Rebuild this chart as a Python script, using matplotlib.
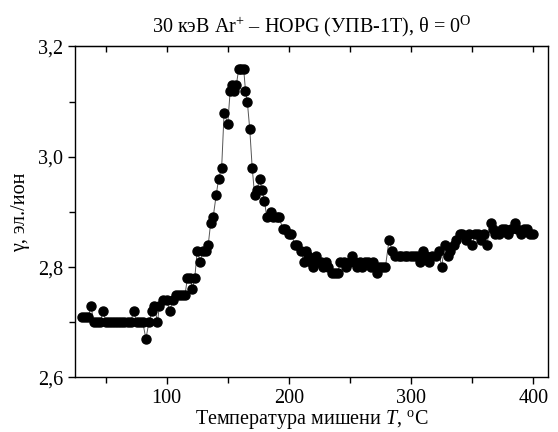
import numpy as np
import matplotlib
matplotlib.use("Agg")
import matplotlib.pyplot as plt
from matplotlib.ticker import FixedLocator, FuncFormatter

plt.rcParams['font.family'] = ['Liberation Serif', 'DejaVu Serif']
plt.rcParams['mathtext.fontset'] = 'custom'
plt.rcParams['mathtext.rm'] = 'Liberation Serif'
plt.rcParams['mathtext.it'] = 'Liberation Serif:italic'

# temperature, C
temp = [31, 33.5, 36, 38, 40.5, 43, 45.5, 48, 50.5, 53,
        55.5, 58, 60.5, 63, 65.5, 68, 70.5, 73, 75.5, 78,
        80.5, 83, 85.5, 88, 90, 92.5, 94, 97, 100, 102.5,
        105, 107.5, 110, 112.5, 115, 117, 119.5, 121, 123, 125,
        127.5, 129.5, 132, 134, 136, 138, 140.5, 142.5, 145, 147,
        150, 152, 153.5, 155.5, 157, 159, 161, 163, 164.5, 166,
        168, 170, 172, 174, 176, 178, 180, 182, 185, 187,
        190, 192, 195, 197, 200, 202, 205, 207, 210, 212,
        214, 216, 218, 220, 222, 224, 226, 228, 230, 232,
        235, 238, 240, 242, 245, 247, 250, 252, 254, 256,
        258, 260, 262, 265, 267, 269, 272, 274, 276, 279,
        282, 284.5, 287, 290, 292, 295, 297, 300, 302, 305,
        307.5, 310, 312, 314.5, 317, 320, 322.5, 325, 327.5, 330,
        332, 335, 337, 340, 342, 345, 347, 350, 352, 355,
        357, 360, 362, 365, 367, 369, 372, 374, 377, 379,
        382, 385, 387, 390, 392, 395, 397, 400]

# electron yield gamma, el./ion
gamma = [2.71, 2.71, 2.71, 2.73, 2.70, 2.70, 2.70, 2.72, 2.70, 2.70,
         2.70, 2.70, 2.70, 2.70, 2.70, 2.70, 2.70, 2.72, 2.70, 2.70,
         2.70, 2.67, 2.70, 2.72, 2.73, 2.70, 2.73, 2.74, 2.74, 2.72,
         2.74, 2.75, 2.75, 2.75, 2.75, 2.78, 2.78, 2.76, 2.78, 2.83,
         2.81, 2.83, 2.83, 2.84, 2.88, 2.89, 2.93, 2.96, 2.98, 3.08,
         3.06, 3.12, 3.13, 3.12, 3.13, 3.16, 3.16, 3.16, 3.12, 3.10,
         3.05, 2.98, 2.93, 2.94, 2.96, 2.94, 2.92, 2.89, 2.90, 2.89,
         2.89, 2.89, 2.87, 2.87, 2.86, 2.86, 2.84, 2.84, 2.83, 2.81,
         2.83, 2.82, 2.81, 2.80, 2.82, 2.81, 2.81, 2.80, 2.81, 2.80,
         2.79, 2.79, 2.79, 2.81, 2.81, 2.80, 2.81, 2.82, 2.81, 2.80,
         2.81, 2.80, 2.81, 2.81, 2.80, 2.81, 2.79, 2.80, 2.80, 2.80,
         2.85, 2.83, 2.82, 2.82, 2.82, 2.82, 2.82, 2.82, 2.82, 2.82,
         2.81, 2.83, 2.82, 2.81, 2.82, 2.82, 2.83, 2.80, 2.84, 2.82,
         2.83, 2.84, 2.85, 2.86, 2.86, 2.85, 2.86, 2.84, 2.86, 2.86,
         2.85, 2.86, 2.84, 2.88, 2.87, 2.86, 2.86, 2.87, 2.87, 2.86,
         2.87, 2.88, 2.87, 2.86, 2.87, 2.87, 2.86, 2.86]

xticks = [100, 200, 300, 400]
xminor = [50, 150, 250, 350]
yticks = [2.6, 2.8, 3.0, 3.2]
yminor = [2.7, 2.9, 3.1]

fig = plt.figure(figsize=(5.58, 4.32), dpi=100)
ax = fig.add_axes([0.1344, 0.1262, 0.8476, 0.7662])

ax.plot(temp, gamma, '-', color='#555555', lw=0.7, zorder=2)
ax.plot(temp, gamma, 'o', color='black', ms=6.5, mec='black', zorder=3)

ax.set_xlim(25, 412)
ax.set_ylim(2.6, 3.2)
ax.xaxis.set_major_locator(FixedLocator(xticks))
ax.xaxis.set_minor_locator(FixedLocator(xminor))
ax.yaxis.set_major_locator(FixedLocator(yticks))
ax.yaxis.set_minor_locator(FixedLocator(yminor))
ax.yaxis.set_major_formatter(FuncFormatter(lambda v, p: ('%.1f' % v).replace('.', ',')))

ax.tick_params(which='both', direction='out', labelsize=14.5, width=1)
ax.tick_params(which='major', length=5)
ax.tick_params(which='minor', length=4)

# inward ticks along the top edge
top = ax.secondary_xaxis('top')
top.xaxis.set_major_locator(FixedLocator(xticks))
top.xaxis.set_minor_locator(FixedLocator(xminor))
top.tick_params(which='both', direction='in', length=4, width=1, labeltop=False)

for s in ax.spines.values():
    s.set_linewidth(1)

ax.set_title('30 кэВ Ar$^{+}$ – HOPG (УПВ-1Т), θ = 0$^{\\rm O}$', fontsize=14.5, pad=10)
ax.set_xlabel('Температура мишени $T$, $^{\\rm o}$C', fontsize=14.5, labelpad=0)
ax.set_ylabel('γ, эл./ион', fontsize=14.5, labelpad=6)

fig.savefig('out.png', dpi=100)
